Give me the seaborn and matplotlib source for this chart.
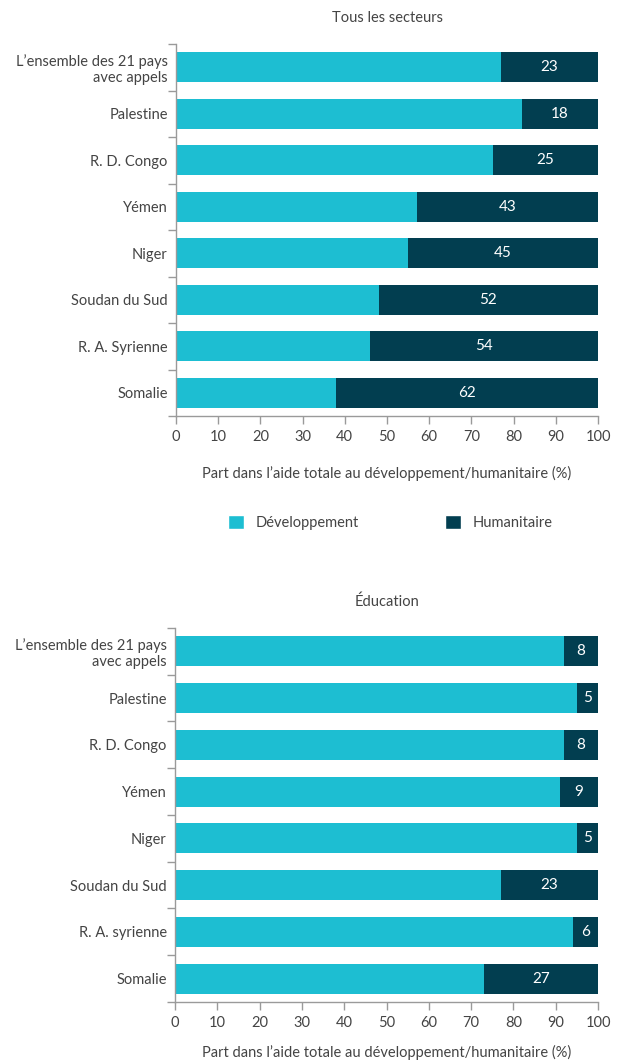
import pandas as pd
import matplotlib.pyplot as plt
import seaborn as sns
from matplotlib.patches import Patch
from matplotlib.ticker import FixedLocator

# --- Données ---
PAYS_TOUS = ['L\u2019ensemble des 21 pays\navec appels', 'Palestine', 'R. D. Congo', 'Yémen',
             'Niger', 'Soudan du Sud', 'R. A. Syrienne', 'Somalie']
DEV_TOUS = [77, 82, 75, 57, 55, 48, 46, 38]
HUM_TOUS = [23, 18, 25, 43, 45, 52, 54, 62]

PAYS_EDU = ['L\u2019ensemble des 21 pays\navec appels', 'Palestine', 'R. D. Congo', 'Yémen',
            'Niger', 'Soudan du Sud', 'R. A. syrienne', 'Somalie']
DEV_EDU = [92, 95, 92, 91, 95, 77, 94, 73]
HUM_EDU = [8, 5, 8, 9, 5, 23, 6, 27]

XTICKS = list(range(0, 101, 10))
XLABEL = 'Part dans l\u2019aide totale au développement/humanitaire (%)'

COUL_DEV = '#1DBED2'
COUL_HUM = '#023E50'
COUL_TEXTE = '#444444'
COUL_AXE = '#9a9a9a'

sns.set_style('white')
plt.rcParams['font.family'] = ['Lato', 'DejaVu Sans']
plt.rcParams['text.color'] = COUL_TEXTE


def panneau(ax, pays, dev, hum, titre, pad_xlabel=16):
    df = pd.DataFrame({'pays': pays, 'dev': dev, 'hum': hum})
    df['total'] = df['dev'] + df['hum']
    sns.barplot(data=df, y='pays', x='total', color=COUL_HUM, orient='h',
                width=0.645, saturation=1, linewidth=0, ax=ax)
    sns.barplot(data=df, y='pays', x='dev', color=COUL_DEV, orient='h',
                width=0.645, saturation=1, linewidth=0, ax=ax)
    for i, row in df.iterrows():
        ax.text(row['dev'] + row['hum'] / 2, i, str(row['hum']), color='white',
                ha='center', va='center', fontsize=11)
    ax.set_xlim(0, 100)
    ax.set_ylim(len(pays) - 0.5, -0.5)
    ax.set_xticks(XTICKS)
    ax.set_xlabel(XLABEL, fontsize=10.5, color=COUL_TEXTE, labelpad=pad_xlabel)
    ax.set_ylabel('')
    ax.set_title(titre, fontsize=10.5, color=COUL_TEXTE, pad=16)
    ax.tick_params(axis='x', length=6, width=1, color=COUL_AXE, labelsize=10.5,
                   labelcolor=COUL_TEXTE, pad=4, bottom=True)
    ax.tick_params(axis='y', which='major', length=0, labelsize=10.5,
                   labelcolor=COUL_TEXTE, pad=6)
    ax.yaxis.set_minor_locator(FixedLocator([k - 0.5 for k in range(len(pays) + 1)]))
    ax.tick_params(axis='y', which='minor', length=6, width=1, color=COUL_AXE, left=True)
    for lbl in ax.get_yticklabels():
        lbl.set_multialignment('right')
    sns.despine(ax=ax)
    for s in ['left', 'bottom']:
        ax.spines[s].set_color(COUL_AXE)
        ax.spines[s].set_linewidth(1)


fig = plt.figure(figsize=(6.21, 10.64), dpi=100)
ax1 = fig.add_axes([0.2834, 0.609, 0.6796, 0.3496])
ax2 = fig.add_axes([0.2818, 0.0583, 0.6812, 0.3515])

panneau(ax1, PAYS_TOUS, DEV_TOUS, HUM_TOUS, 'Tous les secteurs')
panneau(ax2, PAYS_EDU, DEV_EDU, HUM_EDU, 'Éducation', pad_xlabel=11)

poignees = [Patch(facecolor=COUL_DEV, label='Développement'),
            Patch(facecolor=COUL_HUM, label='Humanitaire')]
fig.legend(handles=poignees, loc='center', bbox_to_anchor=(0.628, 0.5085), ncol=2,
           frameon=False, fontsize=10.5, handlelength=1.1, handleheight=1.1,
           handletextpad=0.8, columnspacing=5.9)

fig.savefig('out.png', dpi=100)
